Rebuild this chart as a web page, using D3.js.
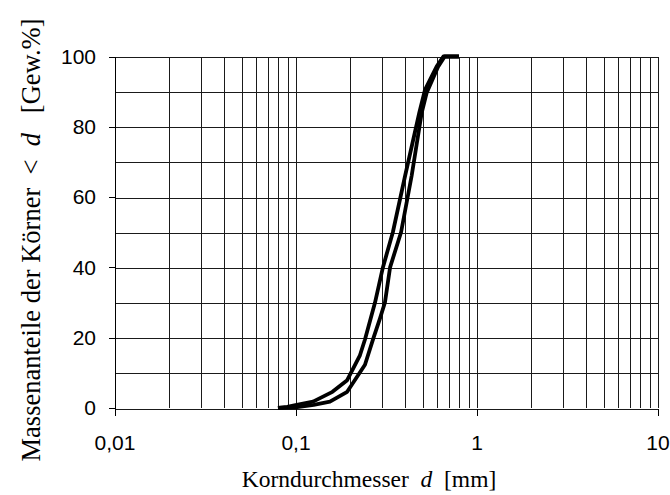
<!DOCTYPE html>
<html>
<head>
<meta charset="utf-8">
<script src="https://cdn.jsdelivr.net/npm/d3@7"></script>
<style>
  body { margin: 0; background: #fff; }
  svg { display: block; }
</style>
</head>
<body>
<div id="chart"></div>
<script>
// grain size distribution, two samples
let sizeA = [0.08, 0.09, 0.1, 0.125, 0.16, 0.193, 0.227, 0.242, 0.275, 0.304, 0.345, 0.403, 0.483, 0.52, 0.603, 0.656, 0.8];
let passA = [0, 0.3, 0.8, 1.8, 4.6, 7.9, 15, 19.5, 30, 40, 50, 66, 84, 90.6, 97.2, 100, 100];
let sizeB = [0.08, 0.1, 0.126, 0.155, 0.193, 0.242, 0.27, 0.293, 0.312, 0.333, 0.383, 0.438, 0.498, 0.53, 0.615, 0.667, 0.8];
let passB = [0, 0.2, 0.9, 1.8, 4.6, 12.3, 20, 25.5, 30, 40, 50, 66, 84, 89.6, 97.2, 100, 100];
let xTicks = [0.01, 0.1, 1, 10];
let xTickLabels = ["0,01", "0,1", "1", "10"];
let yTicks = [0, 20, 40, 60, 80, 100];

let W = 670, H = 495;
let margin = {top: 56.5, right: 12.5, bottom: 87, left: 114.5};
let width_ = W - margin.left - margin.right;
let height_ = H - margin.top - margin.bottom;

let x = d3.scaleLog().domain([0.01, 10]).range([0, width_]);
let y = d3.scaleLinear().domain([0, 100]).range([height_, 0]);

let svg = d3.select("#chart").append("svg")
	.attr("width", W)
	.attr("height", H);

let canvas = svg.append("g")
	.attr("transform", "translate(" + margin.left + "," + margin.top + ")");

// vertical grid (1..9 per decade)
let xGrid = [];
for (let dec = 0.01; dec < 10; dec *= 10) {
	for (let k = 1; k <= 9; k++) xGrid.push(+(dec * k).toPrecision(3));
}
xGrid.push(10);

canvas.append("g").selectAll("line")
	.data(xGrid)
	.join("line")
	.attr("x1", d => Math.round(x(d)) + 0.5)
	.attr("x2", d => Math.round(x(d)) + 0.5)
	.attr("y1", 0)
	.attr("y2", height_)
	.attr("stroke", "#1a1a1a")
	.attr("stroke-width", 1)
	.attr("shape-rendering", "crispEdges");

// horizontal grid every 10
canvas.append("g").selectAll("line")
	.data(d3.range(0, 101, 10))
	.join("line")
	.attr("x1", 0)
	.attr("x2", width_)
	.attr("y1", d => Math.round(y(d)) + 0.5)
	.attr("y2", d => Math.round(y(d)) + 0.5)
	.attr("stroke", "#1a1a1a")
	.attr("stroke-width", 1)
	.attr("shape-rendering", "crispEdges");

// x axis
let xAxis = canvas.append("g")
	.attr("transform", "translate(0," + (Math.round(height_) + 0.5) + ")")
	.call(d3.axisBottom(x).tickValues(xTicks).tickFormat((d, i) => xTickLabels[i]).tickSize(7).tickPadding(19));
xAxis.select(".domain").remove();
xAxis.selectAll("line").attr("stroke", "#000").attr("shape-rendering", "crispEdges");
xAxis.selectAll("text").attr("font-family", "Liberation Sans, Arial, sans-serif").attr("font-size", 21).attr("fill", "#000");

// y axis
let yAxis = canvas.append("g")
	.attr("transform", "translate(0.5,0)")
	.call(d3.axisLeft(y).tickValues(yTicks).tickSize(6).tickPadding(13));
yAxis.select(".domain").attr("stroke", "#000").attr("shape-rendering", "crispEdges");
yAxis.selectAll("line").attr("stroke", "#000").attr("shape-rendering", "crispEdges");
yAxis.selectAll("text").attr("font-family", "Liberation Sans, Arial, sans-serif").attr("font-size", 21).attr("fill", "#000");

// curves
let line = d3.line().x(d => x(d[0])).y(d => y(d[1]));
let curves = [d3.zip(sizeA, passA), d3.zip(sizeB, passB)];
canvas.append("g").selectAll("path")
	.data(curves)
	.join("path")
	.attr("d", line)
	.attr("fill", "none")
	.attr("stroke", "#000")
	.attr("stroke-width", 3.8)
	.attr("stroke-linejoin", "round");

// axis titles
let xTitle = svg.append("text")
	.attr("x", 369)
	.attr("y", 487)
	.attr("text-anchor", "middle")
	.attr("font-family", "Liberation Serif, Times New Roman, serif")
	.attr("font-size", 23.5)
	.attr("xml:space", "preserve");
xTitle.append("tspan").text("Korndurchmesser  ");
xTitle.append("tspan").attr("font-style", "italic").text("d");
xTitle.append("tspan").text("  [mm]");

let yTitle = svg.append("text")
	.attr("transform", "translate(40,240) rotate(-90)")
	.attr("text-anchor", "middle")
	.attr("font-family", "Liberation Serif, Times New Roman, serif")
	.attr("font-size", 26.5)
	.attr("xml:space", "preserve");
yTitle.append("tspan").text("Massenanteile der Körner  <  ");
yTitle.append("tspan").attr("font-style", "italic").text("d");
yTitle.append("tspan").text("   [Gew.%]");
</script>
</body>
</html>
